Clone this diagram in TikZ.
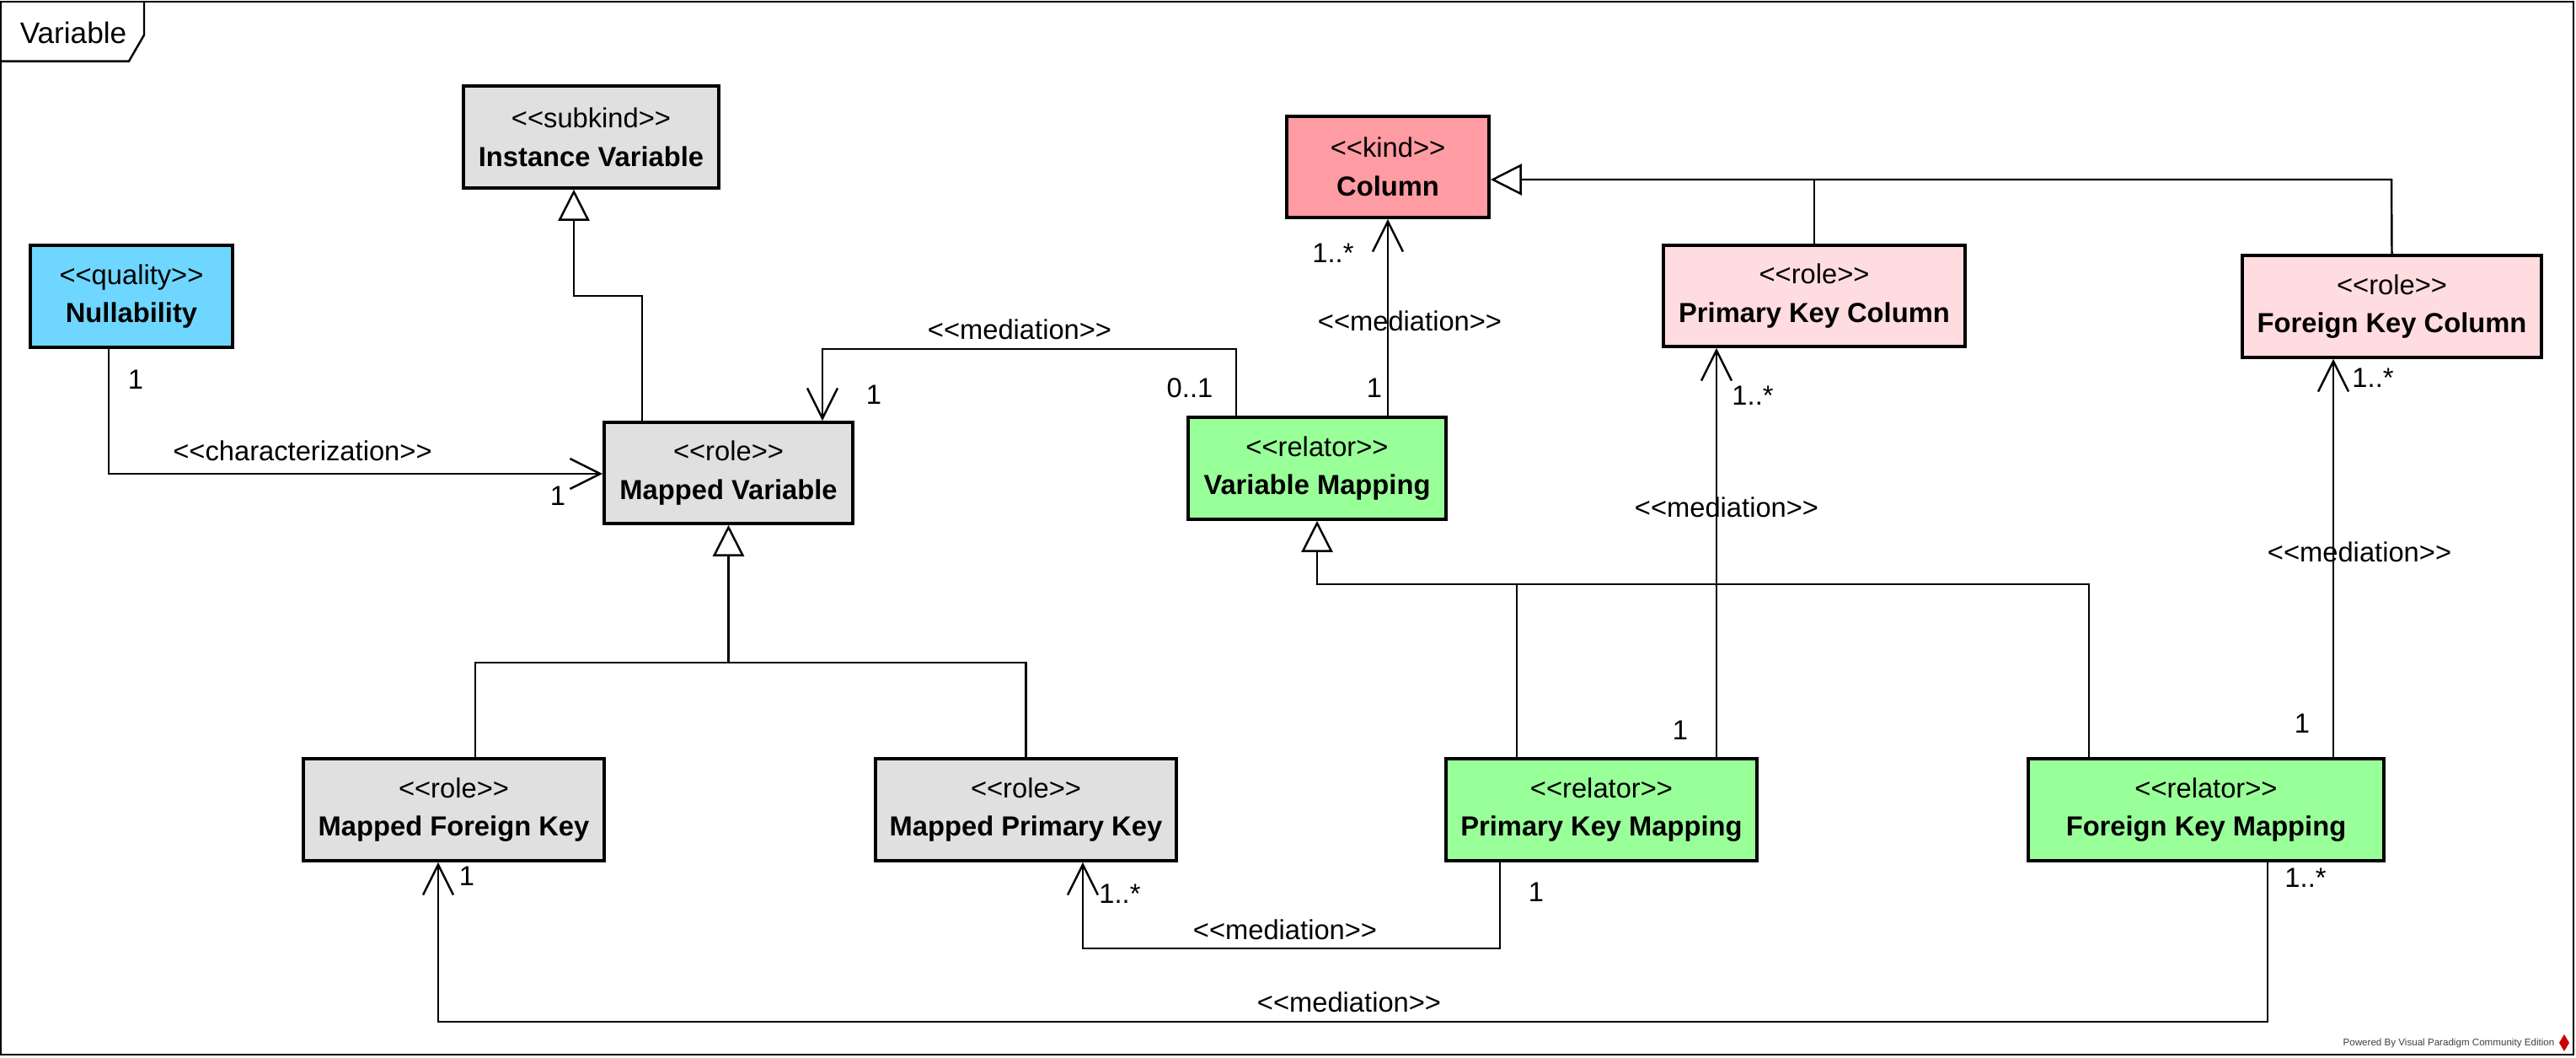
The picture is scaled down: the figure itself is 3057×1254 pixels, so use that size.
\documentclass[tikz,border=0pt]{standalone}
\usepackage{fontspec}
\setmainfont{Liberation Sans}[Ligatures=TeXOff]
\usetikzlibrary{arrows.meta}

\definecolor{greyfill}{RGB}{224,224,224}
\definecolor{qualityfill}{RGB}{111,215,255}
\definecolor{kindfill}{RGB}{255,155,163}
\definecolor{rolefill}{RGB}{255,220,224}
\definecolor{relatorfill}{RGB}{153,255,153}

\newcommand{\umlclass}[2]{<<#1>>\\\textbf{#2}}

\begin{document}
\begin{tikzpicture}[x=0.01cm, y=-0.01cm,
	umlbox/.style={draw, line width=1pt, inner sep=0pt, align=center, font=\fontsize{9.3}{13}\selectfont},
	lbl/.style={inner sep=0pt, font=\fontsize{9.3}{11}\selectfont},
	conn/.style={line width=0.7pt},
	med/.style={conn, -{Straight Barb[length=0.36cm, width=0.36cm]}},
	gen/.style={conn, -{Triangle[open, length=0.37cm, width=0.37cm]}}]

	\useasboundingbox (0,0) rectangle (3057,1254);

	% frame
	\draw[line width=0.7pt] (1,2) rectangle (3054,1251);
	\draw[line width=0.7pt] (1,72.6) -- (153,72.6) -- (171,41.5) -- (171,2);
	\node[inner sep=0pt, font=\fontsize{10}{12}\selectfont] (tab) at (87,39) {Variable};

	% classes
	\node[umlbox, fill=greyfill, minimum width=3.03cm, minimum height=1.21cm] (iv) at (701.5,162.5) {\umlclass{subkind}{Instance Variable}};
	\node[umlbox, fill=qualityfill, minimum width=2.40cm, minimum height=1.21cm] (nul) at (156,351.5) {\umlclass{quality}{Nullability}};
	\node[umlbox, fill=greyfill, minimum width=2.95cm, minimum height=1.20cm] (mv) at (864.5,561) {\umlclass{role}{Mapped Variable}};
	\node[umlbox, fill=kindfill, minimum width=2.40cm, minimum height=1.20cm] (col) at (1647,198) {\umlclass{kind}{Column}};
	\node[umlbox, fill=relatorfill, minimum width=3.06cm, minimum height=1.21cm] (vm) at (1563,555.5) {\umlclass{relator}{Variable Mapping}};
	\node[umlbox, fill=rolefill, minimum width=3.58cm, minimum height=1.20cm] (pkc) at (2153,351) {\umlclass{role}{Primary Key Column}};
	\node[umlbox, fill=rolefill, minimum width=3.55cm, minimum height=1.21cm] (fkc) at (2838.5,363.5) {\umlclass{role}{Foreign Key Column}};
	\node[umlbox, fill=greyfill, minimum width=3.57cm, minimum height=1.21cm] (mfk) at (538.5,960.5) {\umlclass{role}{Mapped Foreign Key}};
	\node[umlbox, fill=greyfill, minimum width=3.57cm, minimum height=1.21cm] (mpk) at (1217.5,960.5) {\umlclass{role}{Mapped Primary Key}};
	\node[umlbox, fill=relatorfill, minimum width=3.69cm, minimum height=1.21cm] (pkm) at (1900.5,960.5) {\umlclass{relator}{Primary Key Mapping}};
	\node[umlbox, fill=relatorfill, minimum width=4.22cm, minimum height=1.21cm] (fkm) at (2618,960.5) {\umlclass{relator}{Foreign Key Mapping}};

	% bend points
	\coordinate (g1) at (762,351);
	\coordinate (g1b) at (681,351);
	\coordinate (g3) at (2838,213);
	\coordinate (g4) at (2479,693);
	\coordinate (g5) at (1800,693);
	\coordinate (g6) at (564,786);
	\coordinate (c1) at (129,562);
	\coordinate (m1) at (1467,414);
	\coordinate (m1b) at (976,414);
	\coordinate (m2) at (2037,700);
	\coordinate (m3) at (2769,700);
	\coordinate (m4) at (1780,1125);
	\coordinate (m4b) at (1285,1125);
	\coordinate (m5) at (2691,1212);
	\coordinate (m5b) at (520,1212);

	% generalizations
	\draw[gen] (g1 |- mv.north) -- (g1) -- (g1b) -- (g1b |- iv.south);
	\draw[gen] (fkc.north) -- (g3) -- (g3 -| col.east);
	\draw[conn] (pkc.north) -- (pkc.north |- g3);
	\draw[gen] (g4 |- fkm.north) -- (g4) -- (g4 -| vm.south) -- (vm.south);
	\draw[conn] (g5 |- pkm.north) -- (g5);
	\draw[gen] (g6 |- mfk.north) -- (g6) -- (g6 -| mv.south) -- (mv.south);
	\draw[conn] (mpk.north) -- (mpk.north |- g6) -- (g6 -| mv.south);

	% characterization and mediations
	\draw[med] (c1 |- nul.south) -- (c1) -- (c1 -| mv.west);
	\draw[med] (m1 |- vm.north) -- (m1) -- (m1b) -- (m1b |- mv.north);
	\draw[med] (vm.north -| col.south) -- (col.south);
	\draw[med] (m2 |- pkm.north) -- (m2 |- pkc.south);
	\draw[med] (m3 |- fkm.north) -- (m3 |- fkc.south);
	\draw[med] (m4 |- pkm.south) -- (m4) -- (m4b) -- (m4b |- mpk.south);
	\draw[med] (m5 |- fkm.south) -- (m5) -- (m5b) -- (m5b |- mfk.south);

	% labels
	\node[lbl] (l1) at (161,450) {1};
	\node[lbl] (l2) at (359,535) {<<characterization>>};
	\node[lbl] (l3) at (662,588) {1};
	\node[lbl] (l4) at (1210,391) {<<mediation>>};
	\node[lbl] (l5) at (1412,460) {0..1};
	\node[lbl] (l6) at (1037,468) {1};
	\node[lbl] (l7) at (1582,300) {1..*};
	\node[lbl] (l8) at (1673,381) {<<mediation>>};
	\node[lbl] (l9) at (1631,460) {1};
	\node[lbl] (l10) at (2080,469) {1..*};
	\node[lbl] (l11) at (2049,602) {<<mediation>>};
	\node[lbl] (l12) at (1994,866) {1};
	\node[lbl] (l13) at (2816,448) {1..*};
	\node[lbl] (l14) at (2800,655) {<<mediation>>};
	\node[lbl] (l15) at (2732,858) {1};
	\node[lbl] (l16) at (1823,1058) {1};
	\node[lbl] (l17) at (1329,1060) {1..*};
	\node[lbl] (l18) at (1525,1103) {<<mediation>>};
	\node[lbl] (l19) at (2736,1041) {1..*};
	\node[lbl] (l20) at (554,1039) {1};
	\node[lbl] (l21) at (1601,1189) {<<mediation>>};

	% watermark
	\node[inner sep=0pt, anchor=east, text=darkgray, font=\fontsize{3.3}{4}\selectfont] (wm) at (3032,1237) {Powered By Visual Paradigm Community Edition};
	\fill[red!80!black] (3043,1227) -- (3049,1237) -- (3043,1247) -- (3037,1237) -- cycle;

\end{tikzpicture}
\end{document}
